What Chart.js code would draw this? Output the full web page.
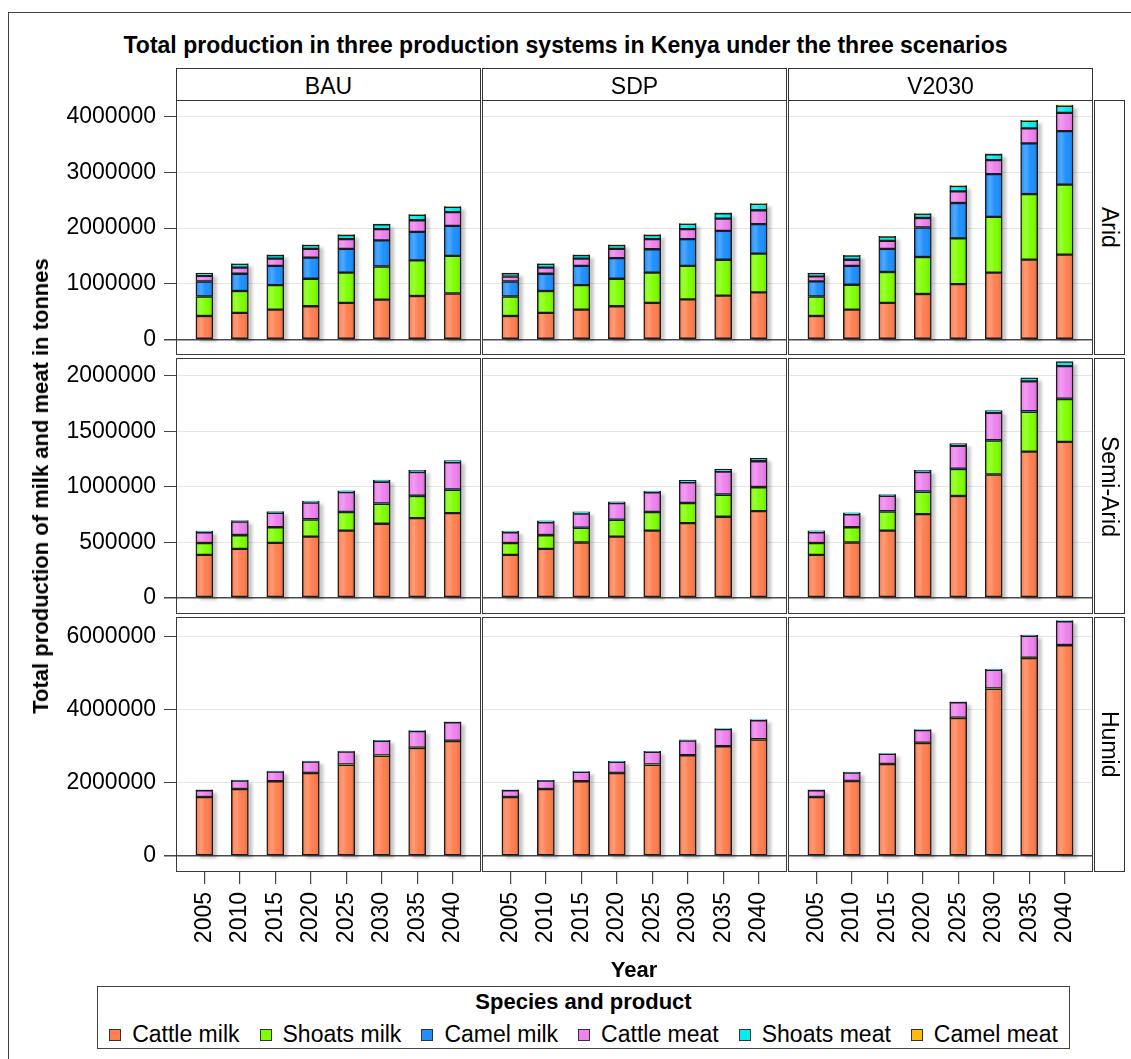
<!DOCTYPE html>
<html>
<head>
<meta charset="utf-8">
<script src="https://cdn.jsdelivr.net/npm/chart.js@4.4.0/dist/chart.umd.min.js"></script>
<style>
  body { margin: 0; background: #fff; overflow: hidden; }
  #fig { position: relative; width: 1131px; height: 1059px; font-family: "Liberation Sans", Arial, sans-serif; color: #000; overflow: hidden; }
  #fig canvas { position: absolute; }
  .frame { position: absolute; left: 8px; top: 12px; width: 1200px; height: 1100px; border-left: 1.5px solid #444; border-top: 1.5px solid #444; }
  .title { position: absolute; left: 0; width: 1131px; top: 34px; text-align: center; font-weight: bold; font-size: 23px; line-height: 1; }
  .strip { position: absolute; box-sizing: border-box; border: 1.5px solid #333; background: #fff; font-size: 23px; line-height: 1; text-align: center; }
  .rstrip { position: absolute; box-sizing: border-box; border: 1.5px solid #333; background: #fff; font-size: 23px; display: flex; align-items: center; justify-content: center; }
  .rstrip span { writing-mode: vertical-rl; line-height: 1; }
  .panel { position: absolute; box-sizing: border-box; border: 1.5px solid #3a3a3a; pointer-events: none; }
  .ytitle { position: absolute; font-weight: bold; font-size: 22px; line-height: 1; white-space: nowrap; transform: translate(-50%, -50%) rotate(-90deg); }
  .xtitle { position: absolute; font-weight: bold; font-size: 22px; line-height: 1; transform: translateX(-50%); }
  .legend { position: absolute; box-sizing: border-box; border: 1.5px solid #444; }
  .legend .lt { position: absolute; left: 0; right: 0; top: 4px; text-align: center; font-weight: bold; font-size: 22px; line-height: 1; }
  .legend .items { position: absolute; left: 0; right: 0; top: 36px; display: flex; justify-content: center; font-size: 23px; line-height: 1; }
  .legend .item { display: flex; align-items: center; margin: 0 10px; }
  .legend .sw { width: 10px; height: 10px; border: 1.5px solid #333; margin-right: 11px; }
</style>
</head>
<body>
<div id="fig">
  <div class="frame"></div>
  <div class="title">Total production in three production systems in Kenya under the three scenarios</div>
</div>
<script>
const years = [2005, 2010, 2015, 2020, 2025, 2030, 2035, 2040];
const scenarios = ['BAU', 'SDP', 'V2030'];
const zones = ['Arid', 'Semi-Arid', 'Humid'];
const products = ['Cattle milk', 'Shoats milk', 'Camel milk', 'Cattle meat', 'Shoats meat', 'Camel meat'];
const productColors = ['#ff7f50', '#7fff00', '#1e90ff', '#ee82ee', '#00eeee', '#ffb90f'];

// production in tonnes, one row per product (same order as products)
const aridBAU = [
  [420000, 476000, 536000, 595000, 655000, 714000, 780000, 825000],
  [350000, 393000, 440000, 495000, 545000, 596000, 640000, 675000],
  [270000, 311000, 344000, 380000, 425000, 470000, 510000, 540000],
  [100000, 110000, 130000, 155000, 175000, 200000, 210000, 245000],
  [46000, 66000, 66000, 71000, 76000, 86000, 96000, 96000],
  [3200, 3600, 4100, 4500, 5000, 5600, 6100, 6700]
];
const aridSDP = [
  [420000, 476000, 536000, 595000, 655000, 720000, 786000, 845000],
  [350000, 394000, 440000, 495000, 545000, 600000, 644000, 695000],
  [270000, 310000, 344000, 370000, 420000, 480000, 520000, 530000],
  [90000, 110000, 130000, 165000, 180000, 180000, 220000, 250000],
  [56000, 66000, 66000, 71000, 76000, 96000, 96000, 114000],
  [3200, 3600, 4100, 4600, 5100, 5700, 6300, 7000]
];
const aridV2030 = [
  [420000, 536000, 655000, 815000, 994000, 1200000, 1434000, 1524000],
  [350000, 446000, 555000, 665000, 821000, 1000000, 1176000, 1256000],
  [272000, 338000, 415000, 530000, 635000, 770000, 910000, 960000],
  [90000, 110000, 145000, 170000, 210000, 250000, 270000, 330000],
  [55000, 76000, 76000, 76000, 96000, 106000, 136000, 126000],
  [3200, 3900, 4700, 5600, 6700, 8000, 9500, 11000]
];
const semiAridBAU = [
  [386000, 440000, 494000, 551000, 605000, 666000, 717000, 762000],
  [105000, 123000, 139000, 154000, 166000, 180000, 199000, 211000],
  [1500, 1700, 1900, 2100, 2400, 2700, 3000, 3300],
  [97000, 122000, 130000, 151000, 178000, 196000, 214000, 244000],
  [10000, 9000, 12000, 12000, 12000, 15000, 15000, 15000],
  [0, 0, 0, 0, 0, 0, 0, 0]
];
const semiAridSDP = [
  [386000, 440000, 497000, 551000, 605000, 672000, 729000, 780000],
  [105000, 123000, 133000, 151000, 166000, 180000, 199000, 214000],
  [1500, 1700, 1900, 2100, 2400, 2700, 3000, 3300],
  [97000, 115000, 127000, 148000, 175000, 184000, 205000, 232000],
  [10000, 12000, 15000, 12000, 12000, 20000, 24000, 27000],
  [0, 0, 0, 0, 0, 0, 0, 0]
];
const semiAridV2030 = [
  [386000, 497000, 605000, 753000, 916000, 1110000, 1316000, 1404000],
  [105000, 136000, 172000, 202000, 244000, 306000, 359000, 385000],
  [1500, 1900, 2300, 2800, 3400, 4100, 4900, 5300],
  [97000, 117000, 139000, 175000, 204000, 246000, 269000, 293000],
  [12000, 12000, 12000, 15000, 22000, 21000, 33000, 40000],
  [0, 0, 0, 0, 0, 0, 0, 0]
];
const humidBAU = [
  [1607000, 1826000, 2037000, 2265000, 2493000, 2740000, 2950000, 3140000],
  [5000, 5500, 6000, 7000, 7500, 8000, 9000, 9500],
  [0, 0, 0, 0, 0, 0, 0, 0],
  [185000, 230000, 265000, 310000, 355000, 400000, 455000, 500000],
  [10000, 11000, 12000, 13000, 14000, 15000, 16000, 17000],
  [0, 0, 0, 0, 0, 0, 0, 0]
];
const humidSDP = [
  [1607000, 1826000, 2037000, 2265000, 2493000, 2749000, 2995000, 3180000],
  [5000, 5500, 6000, 7000, 7500, 8000, 9000, 9500],
  [0, 0, 0, 0, 0, 0, 0, 0],
  [185000, 227000, 255000, 302000, 348000, 400000, 462000, 520000],
  [10000, 11000, 12000, 13000, 14000, 15000, 16000, 17000],
  [0, 0, 0, 0, 0, 0, 0, 0]
];
const humidV2030 = [
  [1607000, 2046000, 2510000, 3087000, 3770000, 4566000, 5406000, 5753000],
  [5000, 6000, 7000, 8000, 9000, 10000, 11000, 12000],
  [0, 0, 0, 0, 0, 0, 0, 0],
  [185000, 227000, 272000, 343000, 419000, 508000, 597000, 650000],
  [10000, 11000, 12000, 14000, 15000, 17000, 19000, 20000],
  [0, 0, 0, 0, 0, 0, 0, 0]
];

const aridTicks = [0, 1000000, 2000000, 3000000, 4000000];
const semiAridTicks = [0, 500000, 1000000, 1500000, 2000000];
const humidTicks = [0, 2000000, 4000000, 6000000];

const panelData = [
  [aridBAU, aridSDP, aridV2030],
  [semiAridBAU, semiAridSDP, semiAridV2030],
  [humidBAU, humidSDP, humidV2030]
];
const rowTicks = [aridTicks, semiAridTicks, humidTicks];

// layout of the 3x3 grid
const colLeft = [176, 482, 788];
const panelW = 305;
const rowTop = [100, 358, 617];
const rowH = [255, 256, 255];
const rowRange = [[-280000, 4300000], [-147000, 2160000], [-437000, 6530000]];
const yAxisW = 176;
const xAxisH = 100;
const FONT = "'Liberation Sans', Arial, sans-serif";

const fig = document.getElementById('fig');

function addDiv(cls, css, html) {
  const d = document.createElement('div');
  d.className = cls;
  Object.assign(d.style, css);
  if (html !== undefined) d.innerHTML = html;
  fig.appendChild(d);
  return d;
}

// drop shadow behind each stack plus a soft sheen on every segment
const barShading = {
  id: 'barShading',
  beforeDatasetsDraw(chart) {
    const ctx = chart.ctx;
    const metas = chart.getSortedVisibleDatasetMetas();
    ctx.save();
    ctx.fillStyle = 'rgba(0,0,0,0.22)';
    ctx.filter = 'blur(1.5px)';
    years.forEach((yr, i) => {
      let top = Infinity, bottom = -Infinity, x = 0, w = 0;
      metas.forEach(m => {
        const el = m.data[i];
        if (!el) return;
        top = Math.min(top, el.y, el.base);
        bottom = Math.max(bottom, el.y, el.base);
        x = el.x; w = el.width;
      });
      ctx.fillRect(x - w / 2 + 4, top + 3, w, bottom - top);
    });
    ctx.restore();
  },
  afterDatasetsDraw(chart) {
    const ctx = chart.ctx;
    ctx.save();
    chart.getSortedVisibleDatasetMetas().forEach(m => m.data.forEach(el => {
      const h = el.base - el.y;
      if (h < 5) return;
      const left = el.x - el.width / 2 + 1.5;
      const w = el.width - 3;
      const g = ctx.createLinearGradient(left, 0, left + w, 0);
      g.addColorStop(0, 'rgba(255,255,255,0.05)');
      g.addColorStop(0.25, 'rgba(255,255,255,0.22)');
      g.addColorStop(0.6, 'rgba(255,255,255,0)');
      g.addColorStop(1, 'rgba(0,0,0,0.10)');
      ctx.fillStyle = g;
      ctx.fillRect(left, el.y + 1.5, w, h - 3);
    }));
    ctx.restore();
  }
};

function makePanel(r, c) {
  const hasY = c === 0;
  const hasX = r === 2;
  const canvas = document.createElement('canvas');
  const w = panelW + (hasY ? yAxisW : 0);
  const h = rowH[r] + (hasX ? xAxisH : 0);
  canvas.width = w;
  canvas.height = h;
  canvas.style.left = (hasY ? colLeft[c] - yAxisW : colLeft[c]) + 'px';
  canvas.style.top = rowTop[r] + 'px';
  fig.appendChild(canvas);

  const rows = panelData[r][c];
  const ticks = rowTicks[r];
  const datasets = products.map((name, k) => ({
    label: name,
    data: years.map((yr, i) => ({ x: yr, y: rows[k][i] })),
    backgroundColor: productColors[k],
    borderColor: '#1c1c1c',
    borderWidth: 1.5,
    borderSkipped: false,
    barThickness: 17
  }));

  new Chart(canvas.getContext('2d'), {
    type: 'bar',
    data: { datasets: datasets },
    plugins: [barShading],
    options: {
      responsive: false,
      animation: false,
      devicePixelRatio: 1,
      layout: { padding: 0 },
      plugins: { legend: { display: false }, tooltip: { enabled: false } },
      scales: {
        x: {
          type: 'linear',
          stacked: true,
          offset: false,
          min: 2001,
          max: 2044,
          display: hasX,
          afterBuildTicks: s => { s.ticks = years.map(v => ({ value: v })); },
          afterFit: s => {
            s.height = hasX ? xAxisH : 0;
            s.paddingLeft = 0; s.paddingRight = 0;
          },
          border: { display: false },
          grid: { offset: false, drawOnChartArea: false, drawTicks: true, tickLength: 12, tickColor: '#444', lineWidth: 1.2 },
          ticks: {
            autoSkip: false, minRotation: 90, maxRotation: 90, padding: 8,
            color: '#000', font: { family: FONT, size: 23 },
            callback: v => String(v)
          }
        },
        y: {
          stacked: true,
          min: rowRange[r][0],
          max: rowRange[r][1],
          afterBuildTicks: s => { s.ticks = ticks.map(v => ({ value: v })); },
          afterFit: s => { s.width = hasY ? yAxisW : 0; s.paddingTop = 0; s.paddingBottom = 0; },
          border: { display: false },
          grid: {
            drawTicks: hasY,
            tickLength: 12,
            tickColor: '#444',
            color: ctx => (ctx.tick && ctx.tick.value === 0) ? '#4a4a4a' : '#e6e6e6',
            lineWidth: ctx => (ctx.tick && ctx.tick.value === 0) ? 1.5 : 1
          },
          ticks: {
            display: hasY, padding: 8, color: '#000',
            font: { family: FONT, size: 23 },
            callback: v => String(v)
          }
        }
      }
    }
  });

  addDiv('panel', { left: colLeft[c] + 'px', top: rowTop[r] + 'px', width: panelW + 'px', height: rowH[r] + 'px' });
}

for (let r = 0; r < zones.length; r++) {
  for (let c = 0; c < scenarios.length; c++) makePanel(r, c);
}

// strip labels
scenarios.forEach((s, c) => {
  addDiv('strip', { left: colLeft[c] + 'px', top: '68px', width: panelW + 'px', height: '33px', paddingTop: '6px' }, s);
});
zones.forEach((z, r) => {
  addDiv('rstrip', { left: '1094px', top: rowTop[r] + 'px', width: '31px', height: rowH[r] + 'px' }, '<span>' + z + '</span>');
});

// axis titles
addDiv('ytitle', { left: '41px', top: '486px' }, 'Total production of milk and meat in tonnes');
addDiv('xtitle', { left: '634px', top: '959px' }, 'Year');

// legend
const legend = addDiv('legend', { left: '97px', top: '986px', width: '973px', height: '63px' });
legend.innerHTML = '<div class="lt">Species and product</div><div class="items"></div>';
const items = legend.querySelector('.items');
products.forEach((p, k) => {
  const it = document.createElement('div');
  it.className = 'item';
  it.innerHTML = '<span class="sw" style="background:' + productColors[k] + '"></span><span>' + p + '</span>';
  items.appendChild(it);
});
</script>
</body>
</html>
